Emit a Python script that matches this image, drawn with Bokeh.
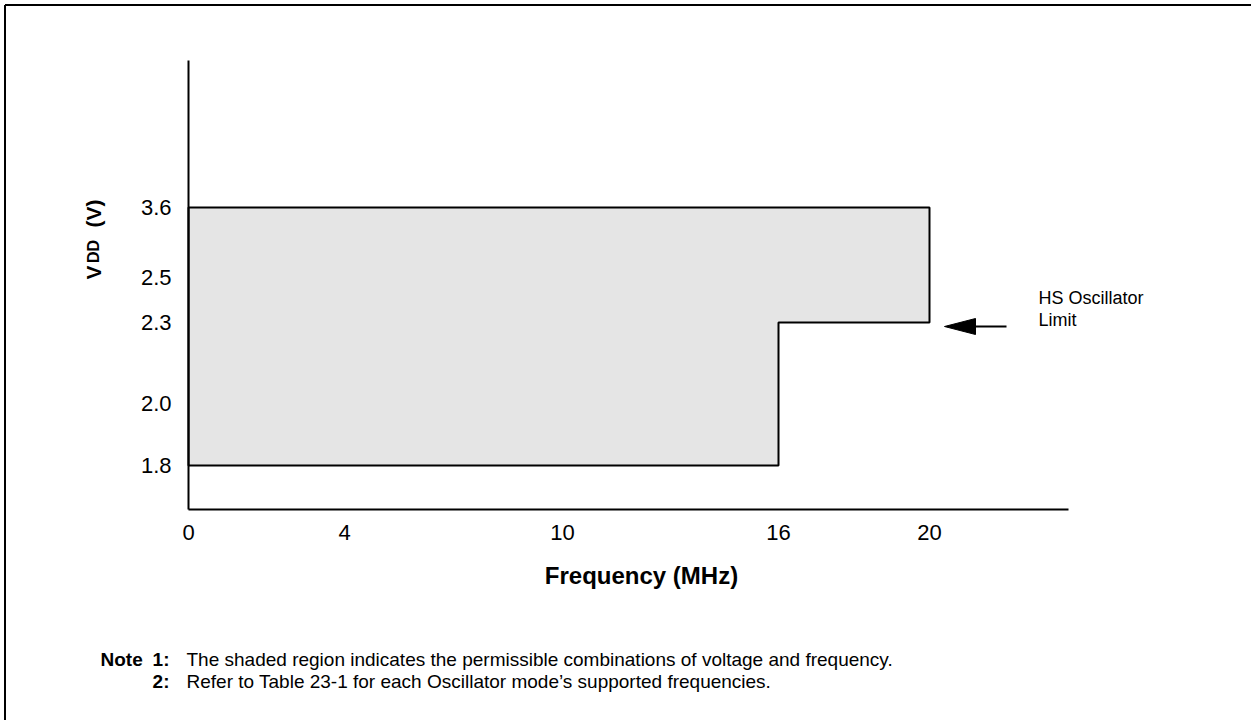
import numpy as np
from bokeh.plotting import figure
from bokeh.models import Range1d, FixedTicker, Label
from bokeh.embed import file_html
from bokeh.resources import INLINE

# ---- data ----
freq_ticks = [0, 4, 10, 16, 20]
freq_labels = ["0", "4", "10", "16", "20"]
volt_ticks = [1.8, 2.0, 2.3, 2.5, 3.6]
volt_labels = ["1.8", "2.0", "2.3", "2.5", "3.6"]
region_freq = [0, 16, 16, 20, 20, 0]
region_volt = [1.8, 1.8, 2.3, 2.3, 3.6, 3.6]
hs_limit_freq = 20
hs_limit_volt = 2.3
note_lines = [
    "The shaded region indicates the permissible combinations of voltage and frequency.",
    "Refer to Table 23-1 for each Oscillator mode\u2019s supported frequencies.",
]

# ---- layout: display positions (px from the axes origin) of the non-uniform ticks ----
x_tick_pos = [0, 156, 374, 590, 741]
y_tick_pos = [44, 106, 187, 232, 302]
X_AXIS_LEN, Y_AXIS_LEN = 880, 449
OX, OY = 188, 509          # axes origin on the canvas
W, H = 1251, 720
X0, X1 = -OX, W - OX
Y0, Y1 = OY - H, OY


def fx(v):
    return np.interp(v, freq_ticks, x_tick_pos)


def fy(v):
    return np.interp(v, volt_ticks, y_tick_pos)


FONT = "Liberation Sans"
p = figure(width=W, height=H, output_backend="svg", toolbar_location=None,
           x_range=Range1d(X0, X1), y_range=Range1d(Y0, Y1),
           min_border=0, min_border_left=0, min_border_right=0,
           min_border_top=0, min_border_bottom=0)
p.outline_line_color = None
p.grid.visible = False
p.background_fill_color = "white"
p.border_fill_color = "white"

for ax in (p.xaxis[0], p.yaxis[0]):
    ax.fixed_location = 0
    ax.axis_line_width = 2
    ax.axis_line_color = "black"
    ax.major_tick_in = 0
    ax.major_tick_out = 0
    ax.minor_tick_in = 0
    ax.minor_tick_out = 0
    ax.major_label_text_font = FONT
    ax.major_label_text_font_size = "22px"
    ax.major_label_text_color = "black"

p.xaxis.bounds = (0, X_AXIS_LEN)
p.xaxis.ticker = FixedTicker(ticks=list(fx(freq_ticks)))
p.xaxis.major_label_overrides = {float(fx(v)): s for v, s in zip(freq_ticks, freq_labels)}
p.xaxis.major_label_standoff = 15

p.yaxis.bounds = (0, Y_AXIS_LEN)
p.yaxis.ticker = FixedTicker(ticks=list(fy(volt_ticks)))
p.yaxis.major_label_overrides = {float(fy(v)): s for v, s in zip(volt_ticks, volt_labels)}
p.yaxis.major_label_standoff = 17

# figure border (left and top edges)
p.line([4.5 + X0, 4.5 + X0], [Y0, Y1 - 4.5], line_color="black", line_width=2)
p.line([4.5 + X0, X1 + 5], [Y1 - 4.5, Y1 - 4.5], line_color="black", line_width=2)

# shaded region
p.patch(fx(region_freq), fy(region_volt), fill_color="#e5e5e5",
        line_color="black", line_width=2)

# arrow pointing to HS oscillator limit
tx, ty = fx(hs_limit_freq) + 15, fy(hs_limit_volt) - 4
p.line([tx + 25, tx + 62], [ty, ty], line_color="black", line_width=2)
p.patch([tx, tx + 31, tx + 31], [ty, ty + 8, ty - 8], fill_color="black", line_color="black")

for txt, yy in (("HS Oscillator", 212), ("Limit", 190)):
    p.add_layout(Label(x=850, y=yy, text=txt, text_font=FONT, text_color="black",
                       text_font_size="18px", text_baseline="middle", text_align="left"))

# axis titles
p.add_layout(Label(x=453, y=-66, text="Frequency (MHz)", text_font=FONT,
                   text_color="black", text_font_size="24px", text_font_style="bold",
                   text_baseline="middle", text_align="center"))
for txt, yy, size in (("V", 237, "21px"), ("DD", 258, "16px"), ("(V)", 296, "21px")):
    p.add_layout(Label(x=-95, y=yy, text=txt, angle=np.pi / 2, text_font=FONT,
                       text_color="black", text_font_size=size, text_font_style="bold",
                       text_baseline="alphabetic", text_align="center"))

# notes
NFS = "19px"
p.add_layout(Label(x=-88, y=-150, text="Note", text_font=FONT, text_font_size=NFS,
                   text_color="black", text_font_style="bold",
                   text_baseline="middle", text_align="left"))
for i, (num, line) in enumerate(zip(["1:", "2:"], note_lines)):
    yy = -150 - 22 * i
    p.add_layout(Label(x=-19, y=yy, text=num, text_font=FONT, text_font_size=NFS,
                       text_color="black", text_font_style="bold",
                       text_baseline="middle", text_align="right"))
    p.add_layout(Label(x=-2, y=yy, text=line, text_font=FONT, text_font_size=NFS,
                       text_color="black", text_baseline="middle", text_align="left"))

open("out.html", "w").write(file_html(p, INLINE))
